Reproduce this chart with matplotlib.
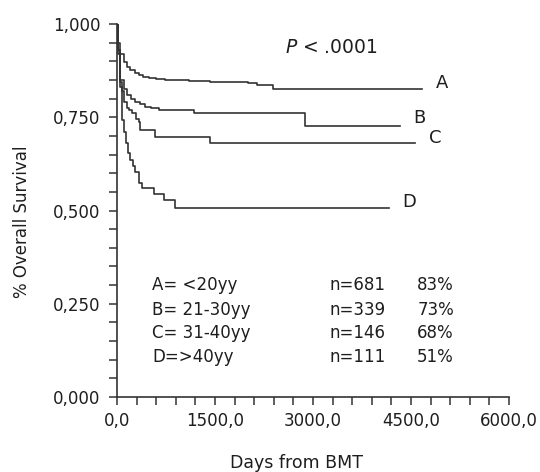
import matplotlib

matplotlib.use("Agg")
import matplotlib.pyplot as plt
from matplotlib.ticker import MultipleLocator, FuncFormatter

# Kaplan-Meier step curves (days, survival fraction)
A_DAYS = [0, 15, 50, 102, 150, 204, 270, 332, 400, 485, 600, 740, 1100, 1430, 2000, 2150, 2390, 4665]
A_SURV = [1.0, 0.95, 0.92, 0.899, 0.885, 0.877, 0.869, 0.863, 0.858, 0.854, 0.852, 0.850, 0.848, 0.845, 0.843, 0.836, 0.826, 0.826]

B_DAYS = [0, 20, 51, 100, 153, 210, 281, 350, 434, 520, 638, 1180, 2880, 4333]
B_SURV = [1.0, 0.93, 0.85, 0.825, 0.81, 0.80, 0.792, 0.785, 0.778, 0.774, 0.769, 0.762, 0.727, 0.727]

C_DAYS = [0, 20, 51, 80, 112, 150, 190, 230, 290, 330, 357, 587, 1429, 4563]
C_SURV = [1.0, 0.92, 0.845, 0.82, 0.792, 0.776, 0.769, 0.761, 0.745, 0.738, 0.716, 0.698, 0.680, 0.680]

D_DAYS = [0, 20, 50, 77, 100, 138, 170, 204, 240, 281, 332, 383, 562, 715, 893, 4165]
D_SURV = [1.0, 0.93, 0.83, 0.743, 0.71, 0.68, 0.655, 0.635, 0.62, 0.604, 0.573, 0.560, 0.543, 0.528, 0.506, 0.506]

CURVE_NAMES = ["A", "B", "C", "D"]
GROUP_LABELS = ["A= <20yy", "B= 21-30yy", "C= 31-40yy", "D=>40yy"]
N_LABELS = ["n=681", "n=339", "n=146", "n=111"]
PCT_LABELS = ["83%", "73%", "68%", "51%"]

LINE = "#333333"
TEXT = "#1e1e1e"

plt.rcParams.update({"font.family": "DejaVu Sans", "text.color": TEXT})

fig = plt.figure(figsize=(5.4, 4.72), dpi=100)
ax = fig.add_axes([117 / 540, 1 - 397 / 472, 392 / 540, 373 / 472])

curves = [(A_DAYS, A_SURV), (B_DAYS, B_SURV), (C_DAYS, C_SURV), (D_DAYS, D_SURV)]
for days, surv in curves:
    ax.step(days, surv, where="post", color=LINE, linewidth=1.2)

# curve end labels
label_pos = [(4885, 0.842), (4533, 0.748), (4778, 0.694), (4365, 0.523)]
for name, (lx, ly) in zip(CURVE_NAMES, label_pos):
    ax.text(lx, ly, name, fontsize=13, va="center", ha="left")

ax.text(2573, 0.936, "$\\it{P}$ < .0001", fontsize=13.5, va="center", ha="left")

rows_y = [0.300, 0.233, 0.172, 0.107]
for gy, g, n, p in zip(rows_y, GROUP_LABELS, N_LABELS, PCT_LABELS):
    ax.text(536, gy, g, fontsize=12, va="center", ha="left")
    ax.text(3247, gy, n, fontsize=12, va="center", ha="left")
    ax.text(4594, gy, p, fontsize=12, va="center", ha="left")

ax.set_xlim(0, 6000)
ax.set_ylim(0, 1.0)
ax.xaxis.set_major_locator(MultipleLocator(1500))
ax.xaxis.set_minor_locator(MultipleLocator(300))
ax.yaxis.set_major_locator(MultipleLocator(0.25))
ax.yaxis.set_minor_locator(MultipleLocator(0.05))
ax.xaxis.set_major_formatter(FuncFormatter(lambda v, _: f"{v:.1f}".replace(".", ",")))
ax.yaxis.set_major_formatter(FuncFormatter(lambda v, _: f"{v:.3f}".replace(".", ",")))

for side in ["top", "right"]:
    ax.spines[side].set_visible(False)
for side in ["left", "bottom"]:
    ax.spines[side].set_color(LINE)
    ax.spines[side].set_linewidth(1.2)

ax.tick_params(which="both", direction="out", length=6, width=1.1, color=LINE)
ax.tick_params(axis="y", which="major", pad=6, labelsize=12, labelcolor=TEXT)
ax.tick_params(axis="x", which="major", pad=5, labelsize=12, labelcolor=TEXT)

fig.text(22 / 540, 1 - 222 / 472, "% Overall Survival", rotation=90, fontsize=12,
         ha="center", va="center")
fig.text(297 / 540, 1 - 463 / 472, "Days from BMT", fontsize=12.5, ha="center", va="center")

fig.savefig("out.png", dpi=100)
